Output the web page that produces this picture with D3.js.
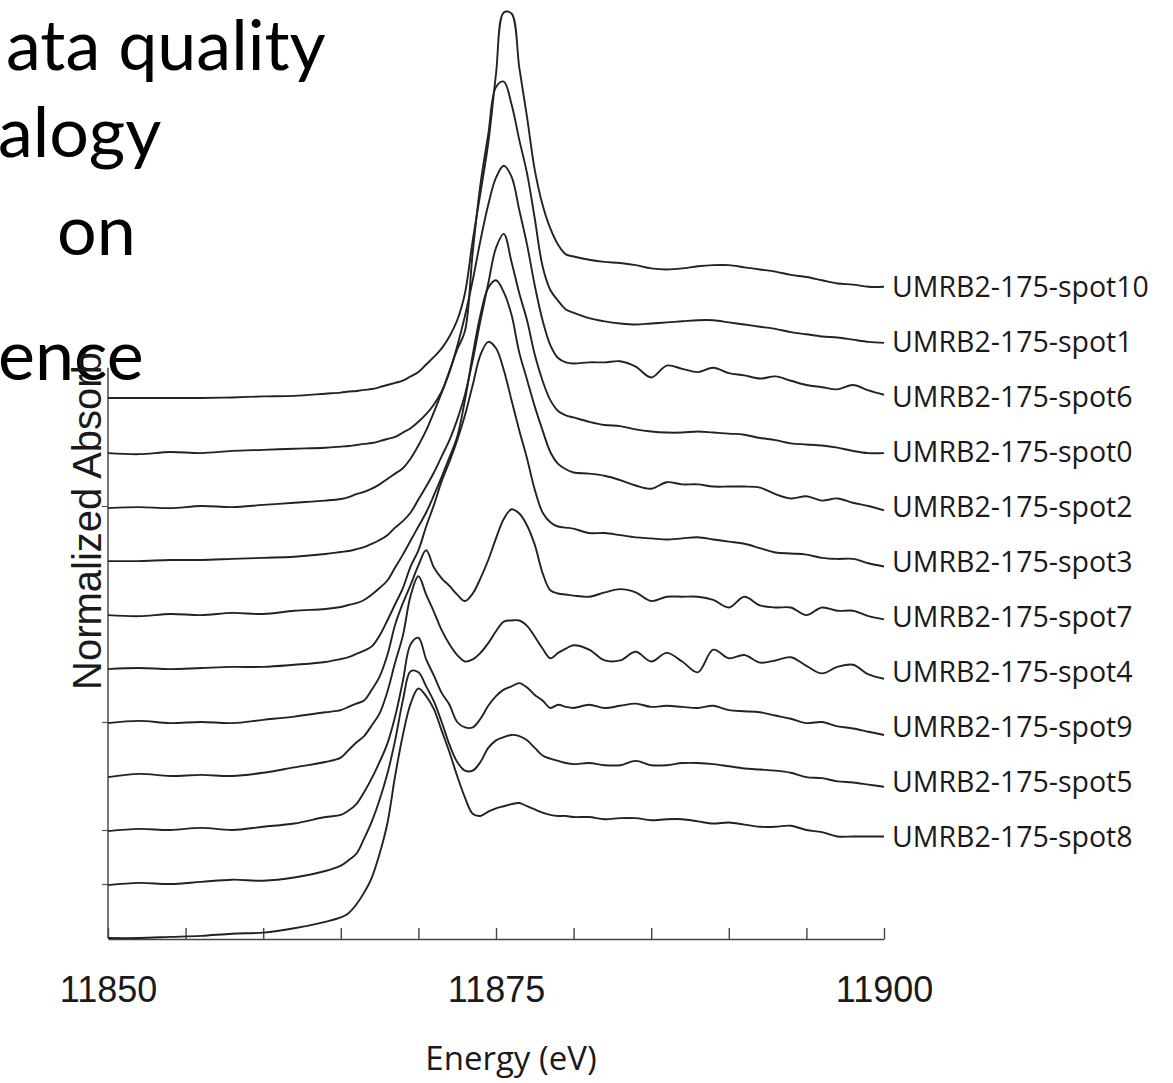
<!DOCTYPE html>
<html>
<head>
<meta charset="utf-8">
<script src="https://cdn.jsdelivr.net/npm/d3@7"></script>
<style>
  html, body { margin: 0; padding: 0; background: #fff; }
  svg { display: block; }
</style>
</head>
<body>
<svg id="chart" width="1173" height="1083"></svg>
<script>
// ---- data ----
const energy = [
  11850, 11852, 11854, 11856, 11858, 11860, 11862, 11864,
  11865, 11865.5, 11866, 11866.5, 11867, 11867.5, 11868, 11868.5, 11869, 11869.5,
  11870, 11870.5, 11871, 11871.5, 11872, 11872.5, 11873, 11873.5, 11874, 11874.5,
  11875, 11875.5, 11876, 11876.5, 11877, 11877.5, 11878, 11878.5, 11879, 11879.5, 11880,
  11881, 11882, 11883, 11884, 11885, 11886, 11887, 11888, 11889, 11890,
  11891, 11892, 11893, 11894, 11895, 11896, 11897, 11898, 11899, 11900
];

const spotNames = [
  'UMRB2-175-spot10', 'UMRB2-175-spot1', 'UMRB2-175-spot6', 'UMRB2-175-spot0',
  'UMRB2-175-spot2', 'UMRB2-175-spot3', 'UMRB2-175-spot7', 'UMRB2-175-spot4',
  'UMRB2-175-spot9', 'UMRB2-175-spot5', 'UMRB2-175-spot8'
];
const stackOffsets = [5, 4.5, 4, 3.5, 3, 2.5, 2, 1.5, 1, 0.5, 0];

const spot10 = [0.00, 0.00, 0.00, 0.00, 0.005, 0.015, 0.02, 0.04,
  0.05, 0.06, 0.065, 0.075, 0.083, 0.10, 0.12, 0.14, 0.16, 0.20, 0.24, 0.31, 0.38, 0.46, 0.57, 0.72, 0.97,
  1.46, 1.90, 2.36, 3.00, 3.57, 3.56, 3.06, 2.60, 2.11, 1.79, 1.57, 1.42, 1.33, 1.31,
  1.28, 1.26, 1.25, 1.23, 1.20, 1.19, 1.20, 1.22, 1.23, 1.23, 1.21, 1.19, 1.17, 1.14, 1.12, 1.09, 1.06, 1.05, 1.03, 1.03];
const spot1 = [-0.01, -0.02, 0.00, -0.01, 0.01, 0.02, 0.03, 0.04,
  0.05, 0.055, 0.065, 0.075, 0.083, 0.10, 0.12, 0.14, 0.18, 0.22, 0.28, 0.35, 0.44, 0.56, 0.75, 0.95, 1.12,
  1.85, 2.48, 2.94, 3.38, 3.43, 3.22, 2.89, 2.58, 2.16, 1.72, 1.50, 1.40, 1.32, 1.29,
  1.24, 1.21, 1.19, 1.18, 1.19, 1.20, 1.21, 1.22, 1.22, 1.20, 1.18, 1.16, 1.14, 1.11, 1.09, 1.07, 1.06, 1.04, 1.02, 1.01];
const spot6 = [-0.02, -0.01, -0.02, 0.00, -0.01, 0.01, 0.03, 0.05,
  0.065, 0.083, 0.11, 0.13, 0.16, 0.20, 0.25, 0.30, 0.35, 0.44, 0.56, 0.70, 0.87, 1.05, 1.24, 1.48, 1.76,
  2.09, 2.46, 2.79, 3.04, 3.15, 3.05, 2.74, 2.42, 2.04, 1.72, 1.49, 1.37, 1.33, 1.32,
  1.33, 1.33, 1.34, 1.29, 1.19, 1.30, 1.27, 1.24, 1.28, 1.23, 1.21, 1.18, 1.20, 1.16, 1.12, 1.10, 1.08, 1.12, 1.07, 1.03];
const spot0 = [-0.01, -0.01, 0.00, 0.00, 0.01, 0.02, 0.03, 0.055,
  0.074, 0.083, 0.10, 0.12, 0.15, 0.185, 0.23, 0.30, 0.36, 0.44, 0.56, 0.68, 0.81, 0.96, 1.11, 1.30, 1.53,
  1.85, 2.22, 2.56, 2.89, 3.02, 2.76, 2.47, 2.22, 1.90, 1.66, 1.48, 1.38, 1.34, 1.32,
  1.28, 1.25, 1.24, 1.21, 1.19, 1.18, 1.18, 1.19, 1.18, 1.17, 1.16, 1.13, 1.11, 1.08, 1.07, 1.06, 1.04, 1.01, 0.99, 0.99];
const spot2 = [-0.01, -0.02, 0.00, -0.01, 0.01, 0.00, 0.03, 0.046,
  0.065, 0.083, 0.10, 0.13, 0.18, 0.24, 0.31, 0.43, 0.55, 0.68, 0.81, 0.94, 1.10, 1.27, 1.45, 1.64, 1.98,
  2.40, 2.77, 3.02, 3.09, 2.98, 2.77, 2.42, 2.17, 1.92, 1.70, 1.50, 1.39, 1.34, 1.31,
  1.30, 1.28, 1.24, 1.19, 1.16, 1.22, 1.20, 1.20, 1.18, 1.18, 1.18, 1.17, 1.11, 1.07, 1.09, 1.05, 1.07, 1.03, 1.00, 0.96];
const spot3 = [-0.01, 0.00, -0.01, 0.00, 0.01, 0.01, 0.03, 0.056,
  0.083, 0.10, 0.13, 0.16, 0.20, 0.30, 0.44, 0.59, 0.74, 0.94, 1.09, 1.31, 1.51, 1.73, 1.91, 2.11, 2.34,
  2.62, 2.90, 3.02, 2.96, 2.76, 2.48, 2.20, 1.94, 1.65, 1.44, 1.35, 1.31, 1.30, 1.29,
  1.25, 1.25, 1.23, 1.21, 1.20, 1.19, 1.20, 1.21, 1.19, 1.17, 1.15, 1.11, 1.07, 1.06, 1.05, 1.02, 1.01, 1.01, 0.97, 0.94];
const spot7 = [-0.01, 0.01, -0.01, 0.00, -0.01, 0.02, 0.05, 0.09,
  0.11, 0.14, 0.17, 0.20, 0.30, 0.42, 0.62, 0.90, 1.10, 1.27, 1.45, 1.59, 1.43, 1.33, 1.26, 1.18, 1.12,
  1.19, 1.33, 1.50, 1.70, 1.88, 1.97, 1.93, 1.82, 1.64, 1.38, 1.22, 1.19, 1.18, 1.17,
  1.16, 1.20, 1.23, 1.20, 1.12, 1.16, 1.16, 1.16, 1.13, 1.06, 1.16, 1.08, 1.06, 1.06, 0.99, 1.06, 1.03, 1.03, 0.98, 0.95];
const spot4 = [-0.01, 0.02, 0.00, 0.01, 0.00, 0.03, 0.08, 0.13,
  0.17, 0.24, 0.31, 0.37, 0.47, 0.58, 0.78, 1.05, 1.30, 1.67, 1.85, 1.68, 1.52, 1.35, 1.22, 1.12, 1.06,
  1.08, 1.14, 1.23, 1.34, 1.43, 1.44, 1.44, 1.39, 1.29, 1.18, 1.09, 1.14, 1.18, 1.21,
  1.17, 1.07, 1.07, 1.15, 1.06, 1.14, 1.06, 0.96, 1.17, 1.09, 1.12, 1.05, 1.07, 1.10, 1.02, 0.95, 1.01, 1.03, 0.94, 0.90];
const spot9 = [-0.01, 0.01, 0.00, 0.02, 0.00, 0.03, 0.06, 0.12,
  0.14, 0.18, 0.24, 0.35, 0.48, 0.63, 0.80, 1.05, 1.38, 1.72, 1.78, 1.58, 1.43, 1.27, 1.16, 1.00, 0.95,
  0.95, 1.03, 1.15, 1.24, 1.30, 1.33, 1.36, 1.32, 1.25, 1.20, 1.13, 1.16, 1.14, 1.13,
  1.16, 1.13, 1.15, 1.17, 1.14, 1.15, 1.14, 1.13, 1.15, 1.11, 1.10, 1.09, 1.06, 1.03, 0.99, 1.00, 0.96, 0.94, 0.91, 0.88];
const spot5 = [-0.01, 0.01, 0.00, 0.02, 0.04, 0.03, 0.06, 0.12,
  0.17, 0.22, 0.28, 0.42, 0.58, 0.78, 1.02, 1.33, 1.70, 1.97, 1.96, 1.83, 1.69, 1.50, 1.29, 1.13, 1.05,
  1.05, 1.13, 1.26, 1.33, 1.36, 1.38, 1.37, 1.33, 1.26, 1.19, 1.16, 1.14, 1.12, 1.11,
  1.12, 1.10, 1.10, 1.14, 1.10, 1.10, 1.12, 1.12, 1.11, 1.09, 1.07, 1.06, 1.05, 1.03, 0.99, 0.98, 0.95, 0.94, 0.92, 0.90];
const spot8 = [0.00, 0.00, 0.01, 0.02, 0.04, 0.05, 0.09, 0.15,
  0.19, 0.23, 0.31, 0.42, 0.56, 0.78, 1.06, 1.50, 1.88, 2.17, 2.31, 2.24, 2.12, 1.92, 1.72, 1.50, 1.30,
  1.15, 1.13, 1.17, 1.20, 1.22, 1.24, 1.25, 1.22, 1.19, 1.16, 1.14, 1.13, 1.13, 1.12,
  1.12, 1.10, 1.11, 1.11, 1.09, 1.10, 1.10, 1.08, 1.06, 1.07, 1.05, 1.03, 1.03, 1.04, 1.00, 0.98, 0.94, 0.94, 0.94, 0.94];

const spectra = [spot10, spot1, spot6, spot0, spot2, spot3, spot7, spot4, spot9, spot5, spot8];

const energyTicks = d3.range(11850, 11901, 5);
const energyLabels = [11850, 11875, 11900];
const leftTicks = [0.5, 1, 2, 4];   // the few stray ticks on the left axis
const axisTop = 5.28;               // top of the drawn left axis
const labelLevel = 0.94;            // names sit a bit above each trace's offset...
const labelSpread = 1.02;           // ...and are spaced slightly wider than the traces

const slideLines = ['ata quality', 'alogy', 'on', 'ence'];
const slideX = [6, -2, 57, -2];
const slideY = [70, 157, 255, 380];

// ---- layout ----
const svg = d3.select('#chart');
const x = d3.scaleLinear().domain([11850, 11900]).range([108, 884]);
const y = d3.scaleLinear().domain([0, 8.6]).range([938, 9.2]);

// slide text that the figure sits on
svg.append('g')
  .selectAll('text')
  .data(slideLines)
  .enter()
  .append('text')
  .attr('x', (d, i) => slideX[i])
  .attr('y', (d, i) => slideY[i])
  .attr('font-family', 'Lato, "Open Sans", sans-serif')
  .attr('font-size', 70)
  .attr('fill', '#000')
  .text(d => d);

// y label, its top hidden under the text box
svg.append('defs').append('clipPath').attr('id', 'ylabClip')
  .append('rect').attr('x', 0).attr('y', 352).attr('width', 200).attr('height', 700);

svg.append('g')
  .attr('clip-path', 'url(#ylabClip)')
  .append('text')
  .attr('transform', 'translate(101,690) rotate(-90)')
  .attr('font-family', '"Liberation Sans", Arial, sans-serif')
  .attr('font-size', 40)
  .attr('fill', '#1a1a1a')
  .text('Normalized Absorbance');

// left axis line + stray ticks
svg.append('line')
  .attr('x1', 108).attr('x2', 108)
  .attr('y1', y(0)).attr('y2', y(axisTop))
  .attr('stroke', '#777').attr('stroke-width', 2);

const yAxis = svg.append('g')
  .attr('transform', 'translate(108,0)')
  .call(d3.axisLeft(y).tickValues(leftTicks).tickSize(6).tickFormat(''));
yAxis.select('.domain').remove();
yAxis.selectAll('line').attr('stroke', '#555').attr('stroke-width', 1.2);

// x axis, ticks pointing up
const xAxis = svg.append('g')
  .attr('transform', `translate(0,${y(0) + 1})`)
  .call(d3.axisBottom(x)
    .tickValues(energyTicks)
    .tickSize(-11)
    .tickSizeOuter(0)
    .tickPadding(37)
    .tickFormat(d => energyLabels.includes(d) ? d3.format('d')(d) : ''));
xAxis.select('.domain').attr('stroke', '#444').attr('stroke-width', 1.6);
xAxis.selectAll('.tick line').attr('stroke', '#444').attr('stroke-width', 1.4);
xAxis.selectAll('.tick text')
  .attr('font-family', '"Liberation Sans", Arial, sans-serif')
  .attr('font-size', 36)
  .attr('fill', '#1a1a1a');

svg.append('text')
  .attr('x', 511)
  .attr('y', 1070)
  .attr('text-anchor', 'middle')
  .attr('font-family', '"Open Sans", sans-serif')
  .attr('font-size', 33)
  .attr('fill', '#1a1a1a')
  .text('Energy (eV)');

// spectra
const traces = svg.append('g').attr('id', 'traces');
spectra.forEach((vals, k) => {
  const off = stackOffsets[k];
  const line = d3.line()
    .x((d, i) => x(energy[i]))
    .y(d => y(d + off))
    .curve(d3.curveCatmullRom.alpha(0.5));
  traces.append('path')
    .attr('d', line(vals))
    .attr('fill', 'none')
    .attr('stroke', '#222')
    .attr('stroke-width', 1.9)
    .attr('stroke-linejoin', 'round');
});

// names at the right end
svg.append('g')
  .selectAll('text')
  .data(spotNames)
  .enter()
  .append('text')
  .attr('x', 892)
  .attr('y', (d, i) => y(stackOffsets[i] * labelSpread + labelLevel))
  .attr('dominant-baseline', 'central')
  .attr('font-family', '"Open Sans", sans-serif')
  .attr('font-size', 28.5)
  .attr('fill', '#1a1a1a')
  .text(d => d);
</script>
</body>
</html>
